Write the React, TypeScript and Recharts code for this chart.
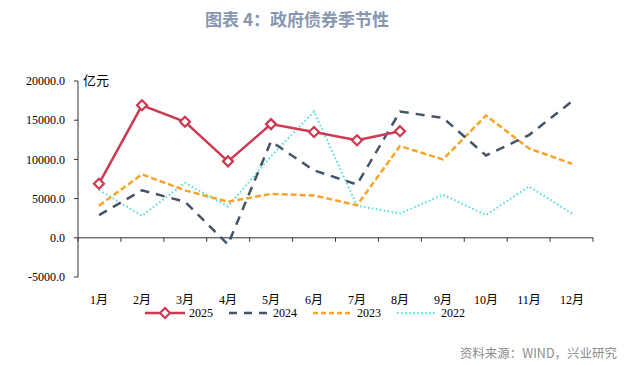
import React from "react";
import {
  LineChart,
  Line,
  XAxis,
  YAxis,
  ReferenceLine,
} from "recharts";

const months = ["1月", "2月", "3月", "4月", "5月", "6月", "7月", "8月", "9月", "10月", "11月", "12月"];
const y2025 = [6900, 16900, 14800, 9750, 14500, 13500, 12450, 13600];
const y2024 = [2900, 6050, 4600, -850, 12300, 8600, 6800, 16100, 15300, 10500, 13100, 17400];
const y2023 = [4100, 8100, 6050, 4600, 5600, 5400, 4150, 11700, 10000, 15600, 11400, 9450];
const y2022 = [6100, 2800, 7000, 4000, 10400, 16100, 4100, 3100, 5500, 2900, 6550, 3100];
const yTicks = [-5000, 0, 5000, 10000, 15000, 20000];

const data = months.map((m, i) => ({
  month: m,
  s2025: y2025[i],
  s2024: y2024[i],
  s2023: y2023[i],
  s2022: y2022[i],
}));

const RED = "#cc3a52";
const NAVY = "#44546a";
const ORANGE = "#f7a428";
const CYAN = "#4fdcdc";
const SERIF = "'Liberation Serif', 'Noto Sans CJK SC', serif";

const Diamond = (props: any) => {
  const { cx, cy } = props;
  if (cx == null || cy == null) return null;
  const r = 5;
  return (
    <polygon
      points={`${cx},${cy - r} ${cx + r},${cy} ${cx},${cy + r} ${cx - r},${cy}`}
      fill="#fff"
      stroke={RED}
      strokeWidth={2.2}
    />
  );
};

const MonthTick = (props: any) => {
  const { x, y, payload } = props;
  return (
    <text x={x} y={y + 16} textAnchor="middle" dominantBaseline="middle" fontSize={12} fontFamily={SERIF} fill="#000">
      {payload.value}
    </text>
  );
};

// zero line with category tick marks hanging below it
const ZeroAxis = (props: any) => {
  const { x1, y1, x2 } = props;
  const step = (x2 - x1) / months.length;
  const marks = [];
  for (let k = 0; k <= months.length; k++) {
    const x = x1 + k * step;
    marks.push(<line key={k} x1={x} y1={y1} x2={x} y2={y1 + 4} stroke="#333" strokeWidth={1} />);
  }
  return (
    <g>
      <line x1={x1} y1={y1} x2={x2} y2={y1} stroke="#333" strokeWidth={1} />
      {marks}
    </g>
  );
};

const legendItems = [
  { name: "2025", color: RED, dash: undefined, width: 2.5, dot: true },
  { name: "2024", color: NAVY, dash: "8 7", width: 2.5, dot: false },
  { name: "2023", color: ORANGE, dash: "5 3", width: 2.5, dot: false },
  { name: "2022", color: CYAN, dash: "1.5 2.5", width: 2, dot: false },
];

const ChartLegend = () => (
  <div style={{ position: "absolute", left: 145, top: 305, display: "flex", alignItems: "center" }}>
    {legendItems.map((it) => (
      <div key={it.name} style={{ display: "flex", alignItems: "center", marginRight: 16 }}>
        <svg width={40} height={16}>
          <line x1={0} y1={8} x2={40} y2={8} stroke={it.color} strokeWidth={it.width} strokeDasharray={it.dash} />
          {it.dot && <Diamond cx={20} cy={8} />}
        </svg>
        <span style={{ fontFamily: SERIF, fontSize: 12, marginLeft: 4, color: "#000" }}>{it.name}</span>
      </div>
    ))}
  </div>
);

export default function App() {
  return (
    <div style={{ position: "absolute", left: 0, top: 0, width: 642, height: 365, background: "#fff" }}>
      <div
        style={{
          position: "absolute",
          left: 0,
          top: 6,
          width: 594,
          textAlign: "center",
          fontFamily: "'Noto Sans CJK SC', sans-serif",
          fontWeight: 700,
          fontSize: 17,
          color: "#8797b0",
        }}
      >
        图表 4：政府债券季节性
      </div>
      <LineChart width={642} height={365} data={data} margin={{ top: 81, right: 49, bottom: 58, left: 0 }}>
        <XAxis
          dataKey="month"
          axisLine={false}
          tickLine={false}
          height={30}
          tick={<MonthTick />}
          interval={0}
          padding={{ left: 21, right: 21 }}
        />
        <YAxis
          domain={[-5000, 20000]}
          ticks={yTicks}
          width={78}
          tickFormatter={(v: number) => v.toFixed(1)}
          tick={{ fontSize: 12, fontFamily: SERIF, fill: "#000" }}
          axisLine={{ stroke: "#333" }}
          tickLine={{ stroke: "#333" }}
          tickSize={4}
          tickMargin={9}
          allowDataOverflow
        />
        <ReferenceLine y={0} shape={<ZeroAxis />} />
        <Line dataKey="s2022" type="linear" stroke={CYAN} strokeWidth={2} strokeDasharray="1.5 2.5" dot={false} isAnimationActive={false} />
        <Line dataKey="s2023" type="linear" stroke={ORANGE} strokeWidth={2.5} strokeDasharray="6 3" dot={false} isAnimationActive={false} />
        <Line dataKey="s2024" type="linear" stroke={NAVY} strokeWidth={2.5} strokeDasharray="9 7" dot={false} isAnimationActive={false} />
        <Line dataKey="s2025" type="linear" stroke={RED} strokeWidth={2.5} dot={<Diamond />} activeDot={false} isAnimationActive={false} />
      </LineChart>
      <div style={{ position: "absolute", left: 83, top: 70, fontFamily: "'Noto Sans CJK SC', serif", fontSize: 13, color: "#000" }}>
        亿元
      </div>
      <ChartLegend />
      <div
        style={{
          position: "absolute",
          right: 25,
          top: 343,
          fontFamily: "'Noto Sans CJK SC', sans-serif",
          fontSize: 12.5,
          color: "#8c8c8c",
        }}
      >
        资料来源：WIND，兴业研究
      </div>
    </div>
  );
}
